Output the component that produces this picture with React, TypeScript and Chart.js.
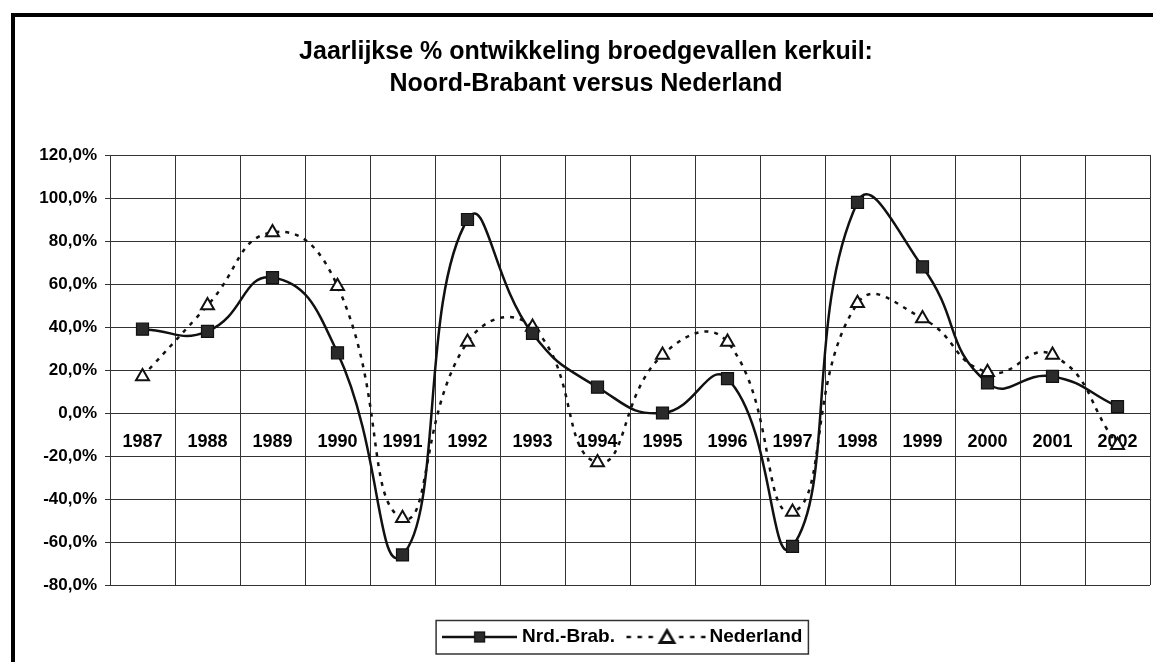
import React, { useEffect, useRef } from 'react';
import { Chart, registerables } from 'chart.js';

Chart.register(...registerables);

// ---- data ----
const years = ['1987', '1988', '1989', '1990', '1991', '1992', '1993', '1994', '1995', '1996', '1997', '1998', '1999', '2000', '2001', '2002'];
const nrdBrab = [39, 38, 63, 28, -66, 90, 37, 12, 0, 16, -62, 98, 68, 14, 17, 3];
const nederland = [17, 50, 84, 59, -49, 33, 40, -23, 27, 33, -46, 51, 44, 19, 27, -15];
const seriesNames = ['Nrd.-Brab.', 'Nederland'];
const titleLines = ['Jaarlijkse % ontwikkeling broedgevallen kerkuil:', 'Noord-Brabant versus Nederland'];
const yMin = -80;
const yMax = 120;
const yStep = 20;

const FONT = "'Liberation Sans', Arial, sans-serif";
const INK = '#111';
const GRID = '#333';

function formatPct(v: number): string {
  return v.toFixed(1).replace('.', ',') + '%';
}

function makeIcon(kind: 'square' | 'triangle', width: number): HTMLCanvasElement {
  const c = document.createElement('canvas');
  c.width = width;
  c.height = 22;
  const ctx = c.getContext('2d')!;
  const cy = 11;
  const cx = width / 2;
  ctx.strokeStyle = INK;
  ctx.lineWidth = 2.5;
  if (kind === 'square') {
    ctx.beginPath();
    ctx.moveTo(0, cy);
    ctx.lineTo(width, cy);
    ctx.stroke();
    ctx.fillStyle = '#2a2a2a';
    ctx.fillRect(cx - 5, cy - 5, 10, 10);
    ctx.lineWidth = 1.2;
    ctx.strokeRect(cx - 5, cy - 5, 10, 10);
  } else {
    ctx.setLineDash([4.5, 6.5]);
    ctx.beginPath();
    ctx.moveTo(2, cy);
    ctx.lineTo(cx - 10, cy);
    ctx.stroke();
    ctx.beginPath();
    ctx.moveTo(cx + 12, cy);
    ctx.lineTo(width, cy);
    ctx.stroke();
    ctx.setLineDash([]);
    ctx.lineWidth = 2.8;
    ctx.fillStyle = '#fff';
    ctx.beginPath();
    ctx.moveTo(cx, cy - 6.5);
    ctx.lineTo(cx + 7, cy + 5.5);
    ctx.lineTo(cx - 7, cy + 5.5);
    ctx.closePath();
    ctx.fill();
    ctx.stroke();
  }
  return c;
}

const LEGEND_DROP = 23.5;
const LEGEND_SHIFT = 11;

const legendTweak = {
  id: 'legendTweak',
  afterLayout(chart: any) {
    const lg = chart.legend;
    if (lg) {
      lg.top += LEGEND_DROP;
      lg.bottom += LEGEND_DROP;
      lg.left -= LEGEND_SHIFT;
    }
  },
  afterDraw(chart: any) {
    const lg = chart.legend;
    if (!lg || !lg.legendHitBoxes || !lg.legendHitBoxes.length) return;
    const hb = lg.legendHitBoxes;
    const first = hb[0];
    const last = hb[hb.length - 1];
    const cy = first.top + first.height / 2;
    const left = first.left - 10.5;
    const right = last.left + last.width + 6;
    const ctx = chart.ctx;
    ctx.save();
    ctx.strokeStyle = '#333';
    ctx.lineWidth = 1.5;
    ctx.strokeRect(left, cy - 16.5, right - left, 33.5);
    ctx.restore();
  },
};

export default function App() {
  const ref = useRef<HTMLCanvasElement | null>(null);

  useEffect(() => {
    if (!ref.current) return;
    const icons = [makeIcon('square', 75), makeIcon('triangle', 85)];
    const chart = new Chart(ref.current, {
      type: 'line',
      data: {
        labels: years,
        datasets: [
          {
            label: seriesNames[0],
            data: nrdBrab,
            borderColor: INK,
            borderWidth: 2.5,
            tension: 0.5,
            pointStyle: 'rect',
            pointRadius: 8.5,
            pointBackgroundColor: '#2a2a2a',
            pointBorderColor: INK,
            pointBorderWidth: 1.2,
            fill: false,
          },
          {
            label: seriesNames[1],
            data: nederland,
            borderColor: INK,
            borderWidth: 2.5,
            borderDash: [4, 6],
            tension: 0.5,
            pointStyle: 'triangle',
            pointRadius: 7.5,
            pointBackgroundColor: '#fff',
            pointBorderColor: INK,
            pointBorderWidth: 2,
            fill: false,
          },
        ],
      },
      options: {
        responsive: false,
        animation: false,
        events: [],
        layout: { autoPadding: false, padding: { left: 22, right: 3, top: 0, bottom: 29 } },
        plugins: {
          tooltip: { enabled: false },
          title: {
            display: true,
            text: titleLines,
            color: '#000',
            font: { family: FONT, size: 25, weight: 'bold', lineHeight: 1.28 },
            padding: { top: 36, bottom: 55 },
          },
          legend: {
            display: true,
            position: 'bottom',
            fullSize: false,
            labels: {
              usePointStyle: true,
              pointStyleWidth: 66,
              padding: 19,
              color: '#000',
              font: { family: FONT, size: 19, weight: 'bold' },
              generateLabels: (ch: any) =>
                ch.data.datasets.map((ds: any, i: number) => ({
                  text: ds.label,
                  datasetIndex: i,
                  pointStyle: icons[i],
                  fillStyle: 'transparent',
                  strokeStyle: 'transparent',
                  lineWidth: 0,
                  hidden: false,
                  fontColor: '#000',
                })),
            },
          },
        },
        scales: {
          x: {
            type: 'category',
            offset: true,
            position: { y: 0 } as any,
            grid: { offset: true, color: GRID, lineWidth: 1, drawTicks: false },
            border: { display: false },
            ticks: {
              color: '#000',
              font: { family: FONT, size: 18, weight: 'bold' },
              padding: 18,
              maxRotation: 0,
              autoSkip: false,
            },
            afterFit: (scale: any) => {
              scale.paddingLeft = 0;
              scale.paddingRight = 0;
            },
          },
          y: {
            min: yMin,
            max: yMax,
            grid: { color: GRID, lineWidth: 1, tickLength: 5 },
            border: { display: false },
            ticks: {
              stepSize: yStep,
              color: '#000',
              padding: 8,
              font: { family: FONT, size: 17, weight: 'bold' },
              callback: (v: any) => formatPct(Number(v)),
            },
            afterFit: (scale: any) => {
              scale.width = 88;
            },
          },
        },
      },
      plugins: [legendTweak],
    });
    return () => chart.destroy();
  }, []);

  return (
    <div style={{ position: 'fixed', left: 0, top: 0, width: 1153, height: 662, overflow: 'hidden', background: '#fff' }}>
      <div
        style={{
          position: 'absolute',
          left: 11,
          top: 13,
          width: 1400,
          height: 900,
          border: '4px solid #000',
          boxSizing: 'border-box',
        }}
      />
      <canvas ref={ref} width={1153} height={662} style={{ position: 'absolute', left: 0, top: 0, width: 1153, height: 662 }} />
    </div>
  );
}
